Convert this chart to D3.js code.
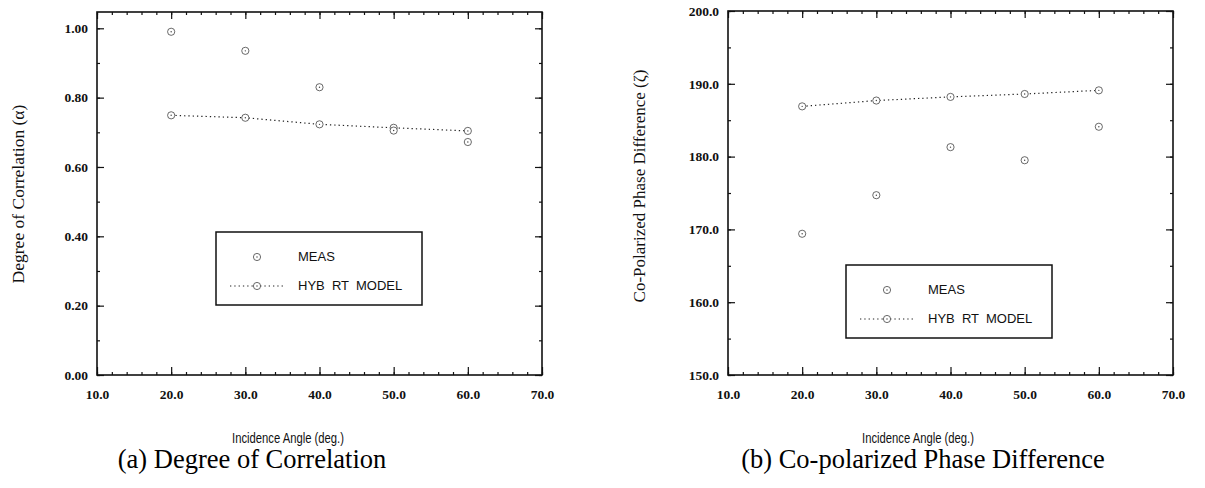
<!DOCTYPE html>
<html>
<head>
	<title>Correlation and Phase Difference</title>
	<script src="https://d3js.org/d3.v7.min.js" charset="utf-8"></script>
	<style>
		body { margin: 0; background: #fff; }
	</style>
</head>
<body>
	<svg width="1205" height="488"></svg>
	<script>
		// incidence angles (deg.)
		var angles = [20, 30, 40, 50, 60];
		var xTicks = [10, 20, 30, 40, 50, 60, 70];

		// (a) degree of correlation
		var corrMeas = [0.99, 0.935, 0.83, 0.705, 0.672];
		var corrModel = [0.749, 0.742, 0.723, 0.713, 0.704];
		var corrTicks = [0, 0.2, 0.4, 0.6, 0.8, 1.0];

		// (b) co-polarized phase difference
		var phaseMeas = [169.4, 174.7, 181.3, 179.5, 184.1];
		var phaseModel = [186.9, 187.7, 188.2, 188.6, 189.1];
		var phaseTicks = [150, 160, 170, 180, 190, 200];

		var legendNames = ['MEAS', 'HYB  RT  MODEL'];

		var svg = d3.select('svg');
		var serif = '"Liberation Serif", "Times New Roman", serif';
		var sans = '"Liberation Sans", Arial, sans-serif';

		function marker(g, x, y) {
			g.append('circle').attr('cx', x).attr('cy', y).attr('r', 3.6)
				.attr('fill', '#fff').attr('stroke', '#444').attr('stroke-width', 0.8);
			g.append('circle').attr('cx', x).attr('cy', y).attr('r', 0.7).attr('fill', '#444');
		}

		function panel(p) {
			var x = d3.scaleLinear().domain([10, 70]).range([p.left, p.right]);
			var y = d3.scaleLinear().domain(p.yDomain).range([375, p.top]);
			var g = svg.append('g');

			// minor ticks on all four sides
			var xMinor = d3.range(10, 70.01, 2);
			var yMinor = d3.range(p.yDomain[0], p.yTicks[p.yTicks.length - 1] + 1e-6, p.yMinorStep);
			g.append('g').attr('transform', 'translate(0,375)')
				.call(d3.axisBottom(x).tickValues(xMinor).tickSize(-3).tickFormat(''));
			g.append('g').attr('transform', `translate(0,${p.top})`)
				.call(d3.axisTop(x).tickValues(xMinor).tickSize(-3).tickFormat(''));
			g.append('g').attr('transform', `translate(${p.left},0)`)
				.call(d3.axisLeft(y).tickValues(yMinor).tickSize(-3).tickFormat(''));
			g.append('g').attr('transform', `translate(${p.right},0)`)
				.call(d3.axisRight(y).tickValues(yMinor).tickSize(-3).tickFormat(''));

			// major ticks with labels
			g.append('g').attr('transform', 'translate(0,375)')
				.call(d3.axisBottom(x).tickValues(xTicks).tickSize(-8).tickPadding(14).tickFormat(d3.format('.1f')));
			g.append('g').attr('transform', `translate(0,${p.top})`)
				.call(d3.axisTop(x).tickValues(xTicks).tickSize(-7).tickFormat(''));
			g.append('g').attr('transform', `translate(${p.left},0)`)
				.call(d3.axisLeft(y).tickValues(p.yTicks).tickSize(-7).tickPadding(9).tickFormat(d3.format(p.yFormat)));
			g.append('g').attr('transform', `translate(${p.right},0)`)
				.call(d3.axisRight(y).tickValues(p.yTicks).tickSize(-7).tickFormat(''));

			g.selectAll('.domain').remove();
			g.selectAll('.tick line').attr('stroke', '#111').attr('stroke-width', 1.2);
			g.selectAll('text').attr('font-family', serif).attr('font-size', 13.5)
				.attr('font-weight', 'bold').attr('fill', '#111');

			// frame
			g.append('rect').attr('x', p.left).attr('y', p.top)
				.attr('width', p.right - p.left).attr('height', 375 - p.top)
				.attr('fill', 'none').attr('stroke', '#111').attr('stroke-width', 1.6);

			// model curve
			var line = d3.line().x(function(d, i) { return x(angles[i]); }).y(function(d) { return y(d); });
			g.append('path').datum(p.model).attr('d', line)
				.attr('fill', 'none').attr('stroke', '#222').attr('stroke-width', 1.2)
				.attr('stroke-dasharray', '1.3,3');
			p.model.forEach(function(d, i) { marker(g, x(angles[i]), y(d)); });
			p.meas.forEach(function(d, i) { marker(g, x(angles[i]), y(d)); });

			// legend
			var lg = g.append('g').attr('transform', `translate(${p.legend[0]},${p.legend[1]})`);
			lg.append('rect').attr('width', 206).attr('height', 73)
				.attr('fill', '#fff').attr('stroke', '#111').attr('stroke-width', 1.5);
			marker(lg, 41, 25);
			lg.append('line').attr('x1', 14).attr('x2', 67).attr('y1', 54).attr('y2', 54)
				.attr('stroke', '#222').attr('stroke-width', 1.2).attr('stroke-dasharray', '1.3,3');
			marker(lg, 41, 54);
			lg.selectAll('text.name').data(legendNames).enter().append('text')
				.attr('x', 82).attr('y', function(d, i) { return 29 + i * 29; })
				.attr('font-family', sans).attr('font-size', 13).attr('fill', '#111')
				.style('white-space', 'pre').text(function(d) { return d; });

			// axis titles and caption
			g.append('text').attr('transform', `translate(${p.yLabelX},${p.yLabelY}) rotate(-90)`)
				.attr('text-anchor', 'middle').attr('font-family', serif).attr('font-size', p.yLabelSize)
				.attr('fill', '#111').text(p.yLabel);
			g.append('text').attr('x', p.xLabelX).attr('y', 443)
				.attr('text-anchor', 'middle').attr('font-family', sans).attr('font-size', 14.5)
				.attr('textLength', 112).attr('lengthAdjust', 'spacingAndGlyphs')
				.attr('fill', '#111').text('Incidence Angle (deg.)');
			g.append('text').attr('x', p.captionX).attr('y', 468)
				.attr('text-anchor', 'middle').attr('font-family', serif).attr('font-size', 26.5)
				.attr('fill', '#000').text(p.caption);
		}

		panel({
			left: 97, right: 542, top: 12,
			yDomain: [0, 1.047], yTicks: corrTicks, yMinorStep: 0.1, yFormat: '.2f',
			meas: corrMeas, model: corrModel,
			legend: [216, 232],
			yLabel: 'Degree of Correlation (α)', yLabelX: 24, yLabelY: 194, yLabelSize: 17.5,
			xLabelX: 288, captionX: 252, caption: '(a) Degree of Correlation'
		});

		panel({
			left: 728, right: 1173, top: 11,
			yDomain: [150, 200], yTicks: phaseTicks, yMinorStep: 5, yFormat: '.1f',
			meas: phaseMeas, model: phaseModel,
			legend: [846, 265],
			yLabel: 'Co-Polarized Phase Difference (ζ)', yLabelX: 645, yLabelY: 186, yLabelSize: 17,
			xLabelX: 918, captionX: 923, caption: '(b) Co-polarized Phase Difference'
		});
	</script>
</body>
</html>
